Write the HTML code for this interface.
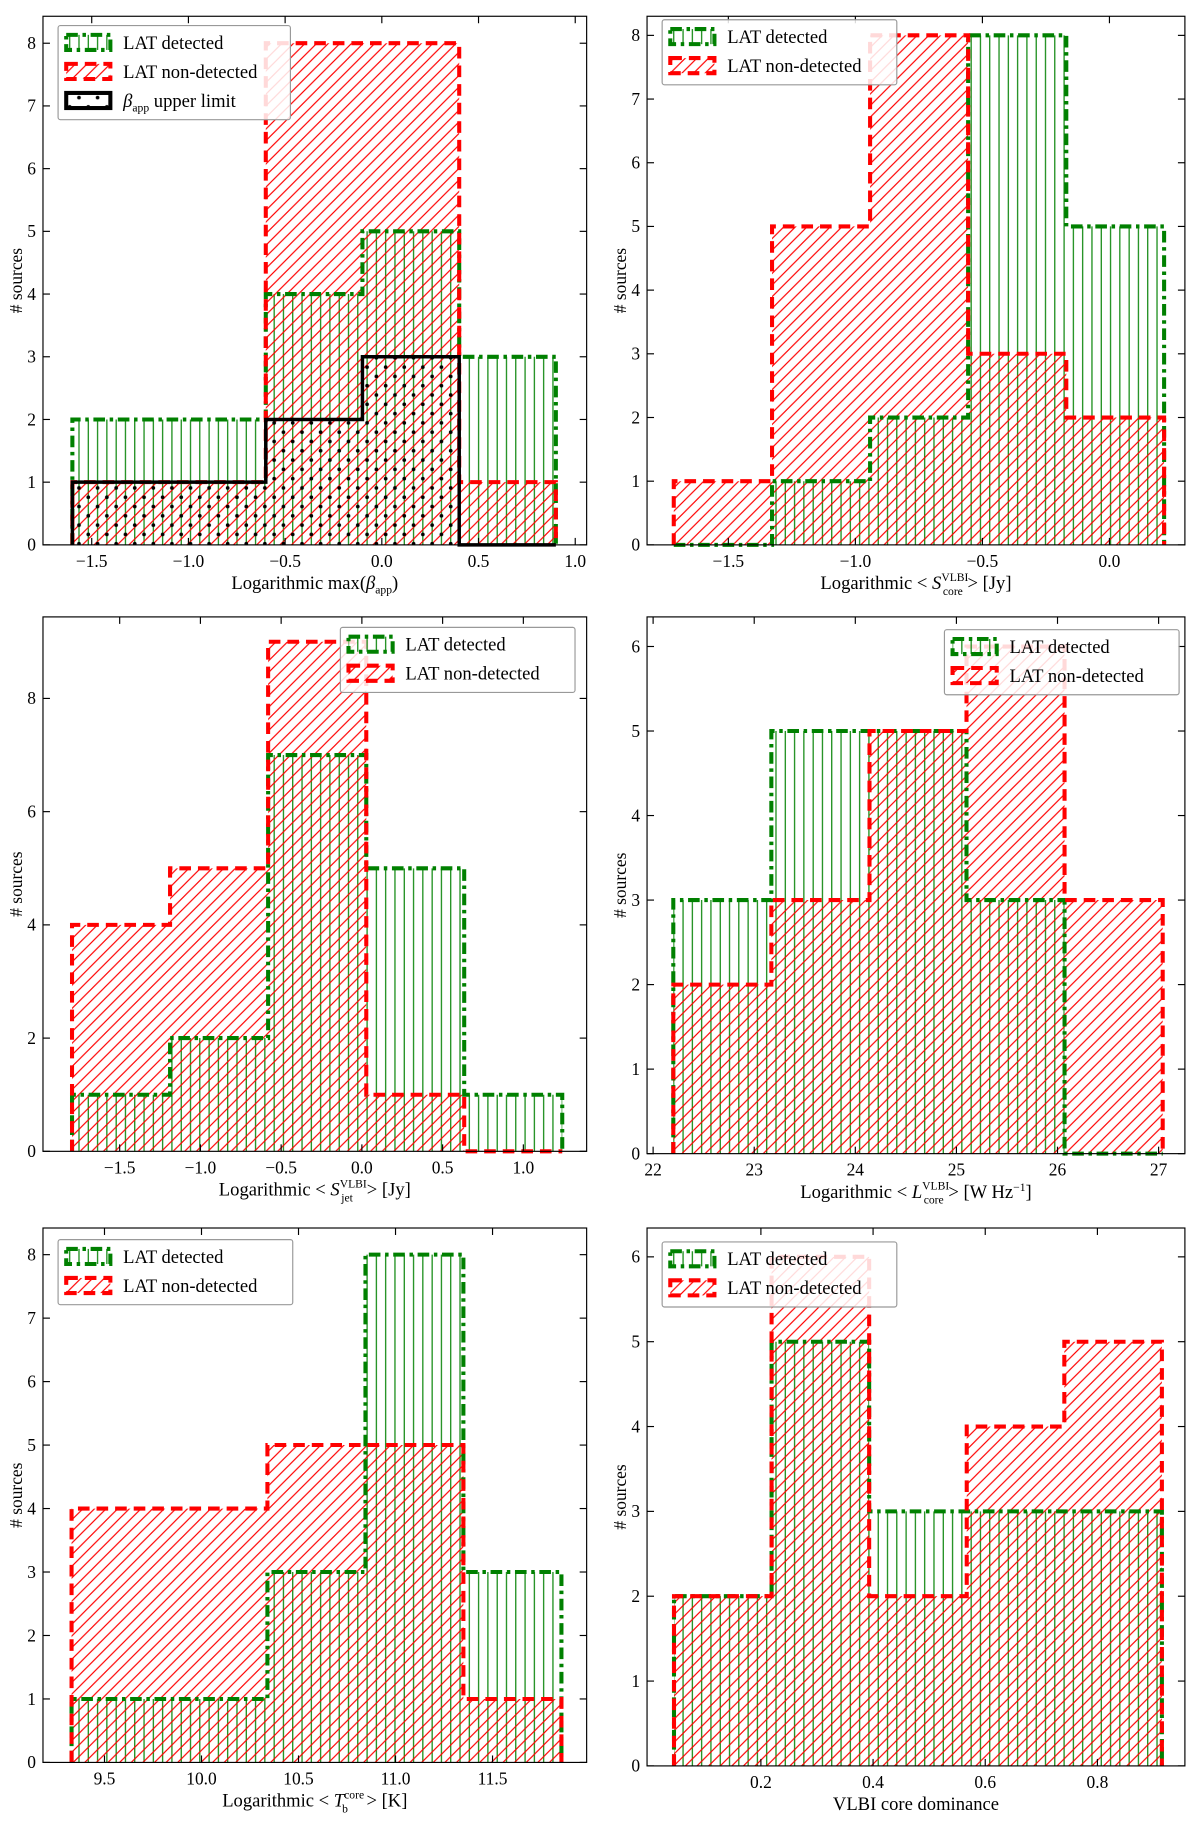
<!DOCTYPE html>
<html><head><meta charset="utf-8">
<style>
html,body{margin:0;padding:0;background:#fff;}
svg{display:block;}
text{font-family:"Liberation Serif","DejaVu Serif",serif;fill:#000;}
</style></head>
<body>
<svg id="fig" width="1200" height="1824" viewBox="0 0 1033 1570" preserveAspectRatio="none" xmlns="http://www.w3.org/2000/svg">
<defs>
<pattern id="hg" patternUnits="userSpaceOnUse" width="8" height="8"><line x1="4" y1="0" x2="4" y2="8" stroke="#008000" stroke-width="1"/></pattern>
<pattern id="hr" patternUnits="userSpaceOnUse" width="10" height="10"><path d="M-2,12 L12,-2 M-7,7 L7,-7 M3,17 L17,3" stroke="#ff0000" stroke-width="1"/></pattern>
<pattern id="hb" patternUnits="userSpaceOnUse" width="16" height="16"><circle cx="4" cy="4" r="1.6" fill="#000"/><circle cx="12" cy="12" r="1.6" fill="#000"/></pattern>
</defs>
</svg>
<script>
// ---- data ----
const p1Edges=[-1.6,-1.1,-0.6,-0.1,0.4,0.9];
const p1Green=[2,2,4,5,3];
const p1Red=[1,1,8,8,1];
const p1Black=[1,1,2,3,0];
const p1XTicks=[-1.5,-1.0,-0.5,0.0,0.5,1.0];
const p1XTickLabels=["\u22121.5","\u22121.0","\u22120.5","0.0","0.5","1.0"];
const p1YTicks=[0,1,2,3,4,5,6,7,8];

const p2Edges=[-1.715,-1.328,-0.942,-0.556,-0.17,0.215];
const p2Green=[0,1,2,8,5];
const p2Red=[1,5,8,3,2];
const p2XTicks=[-1.5,-1.0,-0.5,0.0];
const p2XTickLabels=["\u22121.5","\u22121.0","\u22120.5","0.0"];
const p2YTicks=[0,1,2,3,4,5,6,7,8];

const p3Edges=[-1.795,-1.188,-0.581,0.027,0.634,1.241];
const p3Green=[1,2,7,5,1];
const p3Red=[4,5,9,1,0];
const p3XTicks=[-1.5,-1.0,-0.5,0.0,0.5,1.0];
const p3XTickLabels=["\u22121.5","\u22121.0","\u22120.5","0.0","0.5","1.0"];
const p3YTicks=[0,2,4,6,8];

const p4Edges=[22.2,23.17,24.14,25.1,26.07,27.04];
const p4Green=[3,5,5,3,0];
const p4Red=[2,3,5,6,3];
const p4XTicks=[22,23,24,25,26,27];
const p4XTickLabels=["22","23","24","25","26","27"];
const p4YTicks=[0,1,2,3,4,5,6];

const p5Edges=[9.33,9.835,10.34,10.845,11.35,11.855];
const p5Green=[1,1,3,8,3];
const p5Red=[4,4,5,5,1];
const p5XTicks=[9.5,10.0,10.5,11.0,11.5];
const p5XTickLabels=["9.5","10.0","10.5","11.0","11.5"];
const p5YTicks=[0,1,2,3,4,5,6,7,8];

const p6Edges=[0.045,0.219,0.393,0.567,0.741,0.915];
const p6Green=[2,5,3,3,3];
const p6Red=[2,6,2,4,5];
const p6XTicks=[0.2,0.4,0.6,0.8];
const p6XTickLabels=["0.2","0.4","0.6","0.8"];
const p6YTicks=[0,1,2,3,4,5,6];

const NS="http://www.w3.org/2000/svg";
const svg=document.getElementById('fig');
function mk(tag,attrs,parent){const e=document.createElementNS(NS,tag);for(const k in attrs)e.setAttribute(k,attrs[k]);(parent||svg).appendChild(e);return e;}

function stepPts(edges,vals,sx,sy){
  let pts=[[sx(edges[0]),sy(0)]];
  for(let i=0;i<vals.length;i++){pts.push([sx(edges[i]),sy(vals[i])]);pts.push([sx(edges[i+1]),sy(vals[i])]);}
  pts.push([sx(edges[edges.length-1]),sy(0)]);
  return pts.map(p=>p[0].toFixed(1)+','+p[1].toFixed(1)).join(' ');
}

function panel(cfg){
  const g=mk('g',{});
  
  
  const L=cfg.box[0],T=cfg.box[1],R=cfg.box[2],B=cfg.box[3];
  const sx=v=>L+(v-cfg.xr[0])/(cfg.xr[1]-cfg.xr[0])*(R-L);
  const sy=v=>B-(v-cfg.yr[0])/(cfg.yr[1]-cfg.yr[0])*(B-T);
  const series=cfg.series;
  series.forEach(s=>{
    const p=mk('polygon',{points:stepPts(cfg.edges,s.vals,sx,sy),fill:'url(#'+s.pat+')',stroke:'none'},g);
    
    
  });
  series.forEach(s=>{
    const p=mk('polyline',{points:stepPts(cfg.edges,s.vals,sx,sy),fill:'none',stroke:s.color,'stroke-width':s.w,'stroke-dasharray':s.dash},g);
    
    
  });
  const fr=mk('rect',{x:L,y:T,width:R-L,height:B-T,fill:'none',stroke:'#000','stroke-width':1},g);
  
  
  cfg.xt.forEach((v,i)=>{
    const x=sx(v);
    mk('line',{x1:x,y1:B,x2:x,y2:B-6,stroke:'#000','stroke-width':1},g);
    mk('line',{x1:x,y1:T,x2:x,y2:T+6,stroke:'#000','stroke-width':1},g);
    const t=mk('text',{x:x,y:B+19,'text-anchor':'middle','font-size':15},g);
    t.textContent=cfg.xtl[i];
    
    
  });
  cfg.yt.forEach(v=>{
    const y=sy(v);
    mk('line',{x1:L,y1:y,x2:L+6,y2:y,stroke:'#000','stroke-width':1},g);
    mk('line',{x1:R,y1:y,x2:R-6,y2:y,stroke:'#000','stroke-width':1},g);
    const t=mk('text',{x:L-6,y:y+5,'text-anchor':'end','font-size':15},g);
    t.textContent=String(v);
    
    
  });
  const yl=mk('text',{x:0,y:0,'text-anchor':'middle','font-size':15,transform:'translate('+(L-18)+','+((T+B)/2)+') rotate(-90)'},g);
  yl.textContent='# sources';
  
  
  const xl=mk('text',{x:(L+R)/2,y:B+38,'text-anchor':'middle','font-size':16},g);
  
  
  xl.innerHTML=cfg.xlabel;
  const lg=cfg.legend;
  const lh=25*lg.items.length+6;
  const lgBox=mk('rect',{x:lg.x,y:lg.y,width:lg.w,height:lh,fill:'rgba(255,255,255,0.85)',stroke:'#999','stroke-width':1,rx:2},g);
  
  
  lg.items.forEach((it,i)=>{
    const yy=lg.y+8+i*25;
    const h=mk('rect',{x:lg.x+7,y:yy,width:38,height:13,fill:'url(#'+it.pat+')',stroke:it.color,'stroke-width':3.5,'stroke-dasharray':it.dash},g);
    
    
    const t=mk('text',{x:lg.x+56,y:yy+12,'font-size':16},g);
    t.innerHTML=it.label;
    
    
  });
}

const G={key:'lat-detected',pat:'hg',color:'#008000',w:3.5,dash:'10,4,3,4',label:'LAT detected'};
const Rr={key:'lat-non-detected',pat:'hr',color:'#ff0000',w:3.5,dash:'10,6',label:'LAT non-detected'};
const K={key:'beta-upper-limit',pat:'hb',color:'#000',w:3,dash:'none',label:'<tspan font-style="italic">β</tspan><tspan font-size="10" dy="4">app</tspan><tspan dy="-4"> upper limit</tspan>'};
function S(base,vals){return Object.assign({},base,{vals:vals});}

panel({name:'panel-beta-app',box:[37,14,505,469],xr:[-1.752,1.059],yr:[0,8.43],edges:p1Edges,
  series:[S(G,p1Green),S(Rr,p1Red),S(K,p1Black)],xt:p1XTicks,xtl:p1XTickLabels,yt:p1YTicks,
  xlabel:'Logarithmic max(<tspan font-style="italic">β</tspan><tspan font-size="10" dy="4">app</tspan><tspan dy="-4">)</tspan>',
  legend:{x:50,y:22,w:200,items:[G,Rr,K]}});
panel({name:'panel-s-core',box:[557,14,1020,469],xr:[-1.82,0.297],yr:[0,8.3],edges:p2Edges,
  series:[S(G,p2Green),S(Rr,p2Red)],xt:p2XTicks,xtl:p2XTickLabels,yt:p2YTicks,
  xlabel:'Logarithmic &lt; <tspan font-style="italic">S</tspan><tspan font-size="10" dy="-7">VLBI</tspan><tspan font-size="10" dx="-22" dy="12">core</tspan><tspan dy="-5" dx="4">&gt; [Jy]</tspan>',
  legend:{x:570,y:17,w:202,items:[G,Rr]}});
panel({name:'panel-s-jet',box:[37,531,505,991],xr:[-1.975,1.392],yr:[0,9.44],edges:p3Edges,
  series:[S(G,p3Green),S(Rr,p3Red)],xt:p3XTicks,xtl:p3XTickLabels,yt:p3YTicks,
  xlabel:'Logarithmic &lt; <tspan font-style="italic">S</tspan><tspan font-size="10" dy="-7">VLBI</tspan><tspan font-size="10" dx="-22" dy="12">jet</tspan><tspan dy="-5" dx="12">&gt; [Jy]</tspan>',
  legend:{x:293,y:540,w:202,items:[G,Rr]}});
panel({name:'panel-l-core',box:[557,531,1020,993],xr:[21.94,27.26],yr:[0,6.35],edges:p4Edges,
  series:[S(G,p4Green),S(Rr,p4Red)],xt:p4XTicks,xtl:p4XTickLabels,yt:p4YTicks,
  xlabel:'Logarithmic &lt; <tspan font-style="italic">L</tspan><tspan font-size="10" dy="-7">VLBI</tspan><tspan font-size="10" dx="-22" dy="12">core</tspan><tspan dy="-5" dx="4">&gt; [W Hz</tspan><tspan font-size="10" dy="-6">−1</tspan><tspan dy="6">]</tspan>',
  legend:{x:813,y:542,w:202,items:[G,Rr]}});
panel({name:'panel-tb-core',box:[37,1057,505,1517],xr:[9.183,11.985],yr:[0,8.42],edges:p5Edges,
  series:[S(G,p5Green),S(Rr,p5Red)],xt:p5XTicks,xtl:p5XTickLabels,yt:p5YTicks,
  xlabel:'Logarithmic &lt; <tspan font-style="italic">T</tspan><tspan font-size="10" dy="-7">core</tspan><tspan font-size="10" dx="-19" dy="12">b</tspan><tspan dy="-5" dx="16">&gt; [K]</tspan>',
  legend:{x:50,y:1067,w:202,items:[G,Rr]}});
panel({name:'panel-core-dominance',box:[557,1057,1020,1520],xr:[-0.003,0.956],yr:[0,6.34],edges:p6Edges,
  series:[S(G,p6Green),S(Rr,p6Red)],xt:p6XTicks,xtl:p6XTickLabels,yt:p6YTicks,
  xlabel:'VLBI core dominance',
  legend:{x:570,y:1069,w:202,items:[G,Rr]}});
</script>
</body></html>
